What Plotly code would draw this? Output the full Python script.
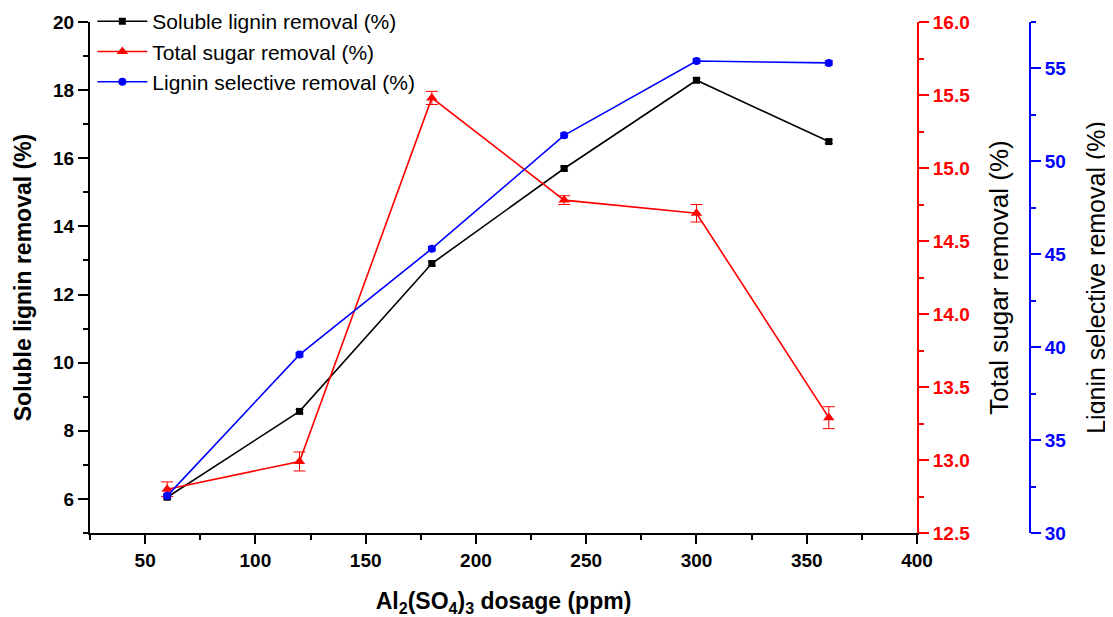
import plotly.graph_objects as go

dosage = [60, 120, 180, 240, 300, 360]
soluble_lignin = [6.05, 8.57, 12.91, 15.70, 18.29, 16.49]
soluble_lignin_err = [0.05, 0.05, 0.06, 0.05, 0.06, 0.05]
total_sugar = [12.80, 12.99, 15.48, 14.78, 14.69, 13.29]
total_sugar_err = [0.05, 0.065, 0.045, 0.03, 0.06, 0.075]
lignin_selective = [32.0, 39.6, 45.3, 51.4, 55.4, 55.3]
lignin_selective_err = [0.12, 0.12, 0.12, 0.12, 0.12, 0.12]

FONT = "Liberation Sans, Arial, sans-serif"

fig = go.Figure()
fig.add_trace(go.Scatter(
    x=dosage, y=soluble_lignin, name="Soluble lignin removal (%)",
    mode="lines+markers", line=dict(color="black", width=1.6),
    marker=dict(symbol="square", size=7, color="black"),
    error_y=dict(type="data", array=soluble_lignin_err, color="black", width=4, thickness=1),
    yaxis="y"))
fig.add_trace(go.Scatter(
    x=dosage, y=total_sugar, name="Total sugar removal (%)",
    mode="lines+markers", line=dict(color="red", width=1.6),
    marker=dict(symbol="triangle-up", size=10, color="red"),
    error_y=dict(type="data", array=total_sugar_err, color="red", width=6, thickness=1),
    yaxis="y2"))
fig.add_trace(go.Scatter(
    x=dosage, y=lignin_selective, name="Lignin selective removal (%)",
    mode="lines+markers", line=dict(color="blue", width=1.6),
    marker=dict(symbol="circle", size=8, color="blue"),
    error_y=dict(type="data", array=lignin_selective_err, color="blue", width=4, thickness=1),
    yaxis="y3"))

TICK = 19

fig.update_layout(
    width=1105, height=609,
    paper_bgcolor="white", plot_bgcolor="white",
    margin=dict(l=82, r=83, t=14, b=84, autoexpand=False),
    showlegend=True,
    legend=dict(x=0.0025, y=1.041, xanchor="left", yanchor="top",
                font=dict(family=FONT, size=21, color="black"),
                bgcolor="rgba(0,0,0,0)", itemwidth=50, tracegroupgap=0),
    xaxis=dict(
        domain=[0, 0.8798], range=[25, 400], tick0=0, dtick=50,
        showline=True, linecolor="black", linewidth=2, automargin=False,
        ticks="outside", ticklen=9, tickwidth=2, tickcolor="black",
        minor=dict(dtick=25, ticks="outside", ticklen=5, tickwidth=1.5, tickcolor="black"),
        showgrid=False, zeroline=False,
        tickfont=dict(family=FONT, size=TICK, color="black", weight="bold"),
        title=dict(text="Al<sub>2</sub>(SO<sub>4</sub>)<sub>3</sub> dosage (ppm)",
                   font=dict(family=FONT, size=23, color="black", weight="bold"), standoff=25),
    ),
    yaxis=dict(
        range=[5, 20], tick0=0, dtick=2,
        showline=True, linecolor="black", linewidth=2, automargin=False,
        ticks="outside", ticklen=10, tickwidth=2, tickcolor="black",
        minor=dict(dtick=1, ticks="outside", ticklen=5, tickwidth=1.5, tickcolor="black"),
        showgrid=False, zeroline=False,
        tickfont=dict(family=FONT, size=TICK, color="black", weight="bold"),
        title=dict(text="Soluble lignin removal (%)",
                   font=dict(family=FONT, size=23, color="black", weight="bold"), standoff=15),
    ),
    yaxis2=dict(
        range=[12.5, 16.0], tick0=0, dtick=0.5, tickformat=".1f",
        overlaying="y", side="right", anchor="x", automargin=False,
        showline=True, linecolor="red", linewidth=2,
        ticks="outside", ticklen=10, tickwidth=2, tickcolor="red",
        minor=dict(dtick=0.25, ticks="outside", ticklen=5, tickwidth=1.5, tickcolor="red"),
        showgrid=False, zeroline=False,
        tickfont=dict(family=FONT, size=TICK, color="red", weight="bold"),
        title=dict(text="Total sugar removal (%)",
                   font=dict(family=FONT, size=26, color="black"), standoff=21),
    ),
    yaxis3=dict(
        range=[30, 57.5], tick0=0, dtick=5,
        overlaying="y", side="right", anchor="free", position=1.0, automargin=False,
        showline=True, linecolor="blue", linewidth=2,
        ticks="outside", ticklen=10, tickwidth=2, tickcolor="blue",
        minor=dict(dtick=2.5, ticks="outside", ticklen=5, tickwidth=1.5, tickcolor="blue"),
        showgrid=False, zeroline=False,
        tickfont=dict(family=FONT, size=TICK, color="blue", weight="bold"),
        title=dict(text="Lignin selective removal (%)",
                   font=dict(family=FONT, size=25, color="black"), standoff=21),
    ),
)

fig.write_html("out.html")
